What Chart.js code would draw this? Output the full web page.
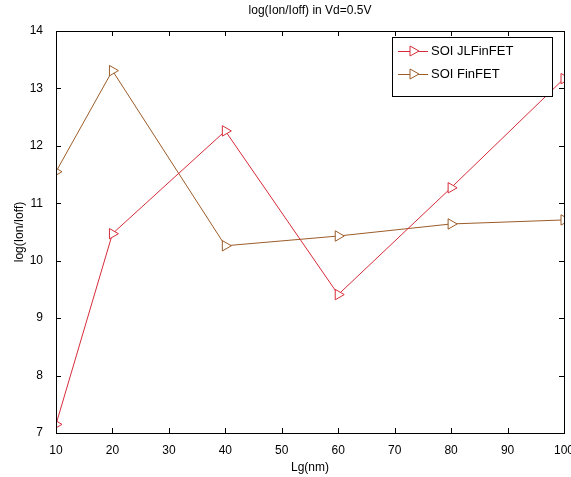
<!DOCTYPE html>
<html lang="en">
<head>
    <meta charset="UTF-8">
    <title>log(Ion/Ioff) in Vd=0.5V</title>
    <script src="https://cdn.jsdelivr.net/npm/chart.js"></script>
    <style>
        html, body { margin: 0; padding: 0; background: #fff; }
        #wrap { width: 571px; height: 477px; }
    </style>
</head>
<body>
    <div id="wrap"><canvas id="lineChart" width="571" height="477"></canvas></div>

    <script>
        // data
        const lg = [10, 20, 40, 60, 80, 100];
        const jlFinfet = [7.15, 10.47, 12.26, 9.41, 11.27, 13.17];
        const finfet = [11.55, 13.31, 10.26, 10.43, 10.64, 10.71];
        const xTicks = [10, 20, 30, 40, 50, 60, 70, 80, 90, 100];
        const yTicks = [7, 8, 9, 10, 11, 12, 13, 14];

        const redColor = 'rgb(214, 44, 58)';
        const brownColor = 'rgb(156, 92, 40)';
        const font = 'Liberation Sans, Arial, sans-serif';

        // MATLAB style box, inward ticks, title and legend
        const matlabBox = {
            id: 'matlabBox',
            afterDraw(chart) {
                const ctx = chart.ctx;
                const a = chart.chartArea;
                const xs = chart.scales.x, ys = chart.scales.y;
                ctx.save();
                ctx.strokeStyle = '#000';
                ctx.lineWidth = 1;
                ctx.beginPath();
                xTicks.forEach(v => {
                    const px = Math.round(xs.getPixelForValue(v)) + 0.5;
                    ctx.moveTo(px, a.bottom); ctx.lineTo(px, a.bottom - 5);
                    ctx.moveTo(px, a.top); ctx.lineTo(px, a.top + 5);
                });
                yTicks.forEach(v => {
                    const py = Math.round(ys.getPixelForValue(v)) + 0.5;
                    ctx.moveTo(a.left, py); ctx.lineTo(a.left + 5, py);
                    ctx.moveTo(a.right, py); ctx.lineTo(a.right - 5, py);
                });
                ctx.stroke();
                ctx.strokeRect(Math.round(a.left) + 0.5, Math.round(a.top) + 0.5,
                    Math.round(a.right - a.left), Math.round(a.bottom - a.top));

                // title
                ctx.fillStyle = '#000';
                ctx.font = '12px ' + font;
                ctx.textAlign = 'center';
                ctx.textBaseline = 'middle';
                ctx.fillText('log(Ion/Ioff) in Vd=0.5V', (a.left + a.right) / 2, 11);

                // legend
                const bx = 392, by = 37, bw = 160, bh = 59;
                ctx.fillStyle = '#fff';
                ctx.fillRect(bx, by, bw, bh);
                ctx.strokeStyle = '#000';
                ctx.strokeRect(bx + 0.5, by + 0.5, bw, bh);
                const items = [['SOI JLFinFET', redColor], ['SOI FinFET', brownColor]];
                items.forEach((it, i) => {
                    const y = by + 14 + i * 23;
                    ctx.strokeStyle = it[1];
                    ctx.beginPath();
                    ctx.moveTo(bx + 6, y + 0.5); ctx.lineTo(bx + 36, y + 0.5);
                    ctx.stroke();
                    // right pointing triangle marker
                    const cx = bx + 22;
                    ctx.beginPath();
                    ctx.moveTo(cx - 4, y - 5);
                    ctx.lineTo(cx + 5, y);
                    ctx.lineTo(cx - 4, y + 5);
                    ctx.closePath();
                    ctx.fillStyle = '#fff';
                    ctx.fill();
                    ctx.stroke();
                    ctx.fillStyle = '#000';
                    ctx.font = '13px ' + font;
                    ctx.textAlign = 'left';
                    ctx.fillText(it[0], bx + 39, y);
                });
                ctx.restore();
            }
        };

        const ctx = document.getElementById('lineChart').getContext('2d');
        new Chart(ctx, {
            type: 'line',
            data: {
                datasets: [
                    {
                        label: 'SOI JLFinFET',
                        data: lg.map((x, i) => ({ x: x, y: jlFinfet[i] })),
                        borderColor: redColor,
                        backgroundColor: '#fff',
                        borderWidth: 1,
                        pointStyle: 'triangle',
                        rotation: 90,
                        pointRadius: 6,
                        pointBorderWidth: 1,
                        tension: 0
                    },
                    {
                        label: 'SOI FinFET',
                        data: lg.map((x, i) => ({ x: x, y: finfet[i] })),
                        borderColor: brownColor,
                        backgroundColor: '#fff',
                        borderWidth: 1,
                        pointStyle: 'triangle',
                        rotation: 90,
                        pointRadius: 6,
                        pointBorderWidth: 1,
                        tension: 0
                    }
                ]
            },
            options: {
                responsive: false,
                animation: false,
                layout: { padding: { top: 31, right: 7, left: 0, bottom: 0 } },
                plugins: {
                    legend: { display: false },
                    title: { display: false },
                    tooltip: { enabled: false }
                },
                scales: {
                    x: {
                        type: 'linear',
                        min: 10,
                        max: 100,
                        afterFit(scale) {
                            scale.height = 44;
                            scale.paddingLeft = 0;
                            scale.paddingRight = 0;
                        },
                        afterBuildTicks(scale) { scale.ticks = xTicks.map(v => ({ value: v })); },
                        grid: { display: false },
                        border: { display: false },
                        ticks: { color: '#000', font: { family: font, size: 12 }, padding: 2, maxRotation: 0 },
                        title: { display: true, text: 'Lg(nm)', color: '#000', font: { family: font, size: 12 }, padding: { top: 0, bottom: 2 } }
                    },
                    y: {
                        min: 7,
                        max: 14,
                        afterFit(scale) {
                            scale.width = 56;
                            scale.paddingTop = 0;
                            scale.paddingBottom = 0;
                        },
                        afterBuildTicks(scale) { scale.ticks = yTicks.map(v => ({ value: v })); },
                        grid: { display: false },
                        border: { display: false },
                        ticks: { color: '#000', font: { family: font, size: 12 }, padding: 5 },
                        title: { display: true, text: 'log(Ion/Ioff)', color: '#000', font: { family: font, size: 12 }, padding: { top: 12, bottom: 8 } }
                    }
                }
            },
            plugins: [matlabBox]
        });
    </script>
</body>
</html>
